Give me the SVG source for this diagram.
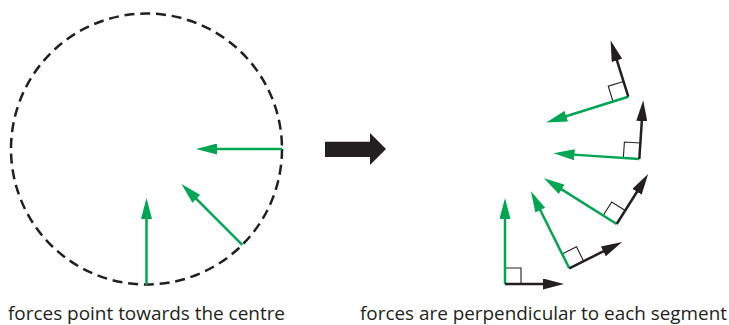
<svg xmlns="http://www.w3.org/2000/svg" width="729" height="325" viewBox="0 0 729 325">
  <defs>
    <style>
      .g { stroke: #00a651; stroke-width: 2.5; fill: none; marker-end: url(#hg); }
      .k { stroke: #231f20; stroke-width: 2.5; fill: none; marker-end: url(#hk); }
      .sq { stroke: #231f20; stroke-width: 1.1; fill: none; }
      .lbl { font-family: "Open Sans", "Noto Sans", sans-serif; font-size: 18px; fill: #231f20; }
    </style>
    <marker id="hg" markerWidth="21" markerHeight="11" refX="1" refY="5.5" orient="auto" markerUnits="userSpaceOnUse">
      <path d="M0,0 L21,5.5 L0,11 z" fill="#00a651"/>
    </marker>
    <marker id="hk" markerWidth="21" markerHeight="11" refX="1" refY="5.5" orient="auto" markerUnits="userSpaceOnUse">
      <path d="M0,0 L21,5.5 L0,11 z" fill="#231f20"/>
    </marker>
  </defs>

  <g id="circle-diagram">
    <circle cx="146.5" cy="149" r="135.5" fill="none" stroke="#231f20" stroke-width="2.5" stroke-dasharray="10 5.8"/>
    <line class="g" x1="282" y1="149" x2="216" y2="149"/>
    <line class="g" x1="242.3" y1="244.8" x2="195.6" y2="198.1"/>
    <line class="g" x1="146.5" y1="284.5" x2="146.5" y2="218"/>
  </g>

  <g id="big-arrow">
    <polygon points="325,141.7 370,141.7 370,133 386,149 370,165 370,157 325,157" fill="#231f20"/>
  </g>

  <g id="segments">
    <g id="seg1" transform="translate(505,284) rotate(0)">
      <path class="sq" d="M0,-16 H16 V0"/>
      <line class="g" x1="0" y1="0" x2="0" y2="-66"/>
      <line class="k" x1="0" y1="0" x2="39" y2="0"/>
    </g>
    <g id="seg2" transform="translate(569.3,268.3) rotate(-26.5)">
      <path class="sq" d="M0,-16 H16 V0"/>
      <line class="g" x1="0" y1="0" x2="0" y2="-66"/>
      <line class="k" x1="0" y1="0" x2="39" y2="0"/>
    </g>
    <g id="seg3" transform="translate(616.7,224) rotate(-57.8)">
      <path class="sq" d="M0,-16 H16 V0"/>
      <line class="g" x1="0" y1="0" x2="0" y2="-66"/>
      <line class="k" x1="0" y1="0" x2="39" y2="0"/>
    </g>
    <g id="seg4" transform="translate(639.3,159) rotate(-86.2)">
      <path class="sq" d="M0,-16 H16 V0"/>
      <line class="g" x1="0" y1="0" x2="0" y2="-66"/>
      <line class="k" x1="0" y1="0" x2="39" y2="0"/>
    </g>
    <g id="seg5" transform="translate(628.3,96.7) rotate(-107.4)">
      <path class="sq" d="M0,-16 H16 V0"/>
      <line class="g" x1="0" y1="0" x2="0" y2="-66"/>
      <line class="k" x1="0" y1="0" x2="39" y2="0"/>
    </g>
  </g>

  <g id="labels">
    <text class="lbl" x="8" y="320" textLength="277" lengthAdjust="spacingAndGlyphs">forces point towards the centre</text>
    <text class="lbl" x="360" y="320" textLength="367" lengthAdjust="spacingAndGlyphs">forces are perpendicular to each segment</text>
  </g>
</svg>
